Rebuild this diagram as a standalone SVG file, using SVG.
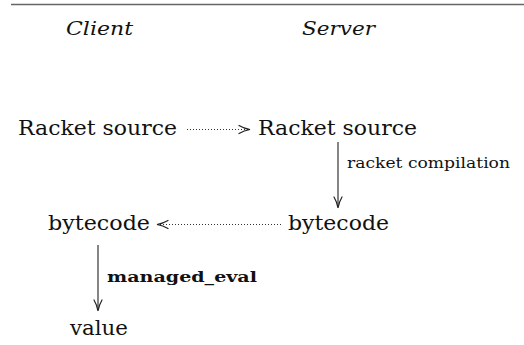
<svg xmlns="http://www.w3.org/2000/svg" width="524" height="345" viewBox="0 0 524 345">
<style>
text{font-family:'DejaVu Serif','Liberation Serif',serif;fill:#111}
.t{font-size:21px}
.h{font-size:19px;font-style:italic}
.s{font-size:14px}
.b{font-size:14px;font-weight:bold}
.dot{stroke:#333;stroke-width:1;stroke-dasharray:1 2;fill:none}
.sol{stroke:#222;stroke-width:1.1;fill:none}
.hd{stroke:#222;stroke-width:1.2;fill:none;stroke-linecap:round}
</style>
<rect width="524" height="345" fill="#fff"/>
<line x1="11" y1="4.5" x2="524" y2="4.5" stroke="#666" stroke-width="1.3"/>
<g id="hdr-client"><text class="h" x="66" y="35" textLength="67" lengthAdjust="spacingAndGlyphs">Client</text></g>
<g id="hdr-server"><text class="h" x="302" y="35" textLength="73" lengthAdjust="spacingAndGlyphs">Server</text></g>
<g id="client-src"><text class="t" x="18" y="135" textLength="159" lengthAdjust="spacingAndGlyphs">Racket source</text></g>
<g id="server-src"><text class="t" x="258" y="135" textLength="159" lengthAdjust="spacingAndGlyphs">Racket source</text></g>
<g id="server-bc"><text class="t" x="288" y="230" textLength="101" lengthAdjust="spacingAndGlyphs">bytecode</text></g>
<g id="client-bc"><text class="t" x="48" y="230" textLength="102" lengthAdjust="spacingAndGlyphs">bytecode</text></g>
<g id="value"><text class="t" x="70" y="335" textLength="58" lengthAdjust="spacingAndGlyphs">value</text></g>
<g id="connectors">
<line class="dot" x1="187" y1="129.5" x2="248" y2="129.5"/>
<path class="hd" d="M239,125.5 Q244,128.5 250,129.5 Q244,130.5 239,133.5"/>
<line class="sol" x1="338" y1="142" x2="338" y2="207"/>
<path class="hd" d="M334,197 Q337,202 338,208 Q339,202 342,197"/>
<text class="s" x="347" y="168" textLength="163" lengthAdjust="spacingAndGlyphs">racket compilation</text>
<line class="dot" x1="160" y1="224.5" x2="282" y2="224.5"/>
<path class="hd" d="M168,220.5 Q163,223.5 157,224.5 Q163,225.5 168,228.5"/>
<line class="sol" x1="98" y1="245" x2="98" y2="310"/>
<path class="hd" d="M94,300 Q97,305 98,311 Q99,305 102,300"/>
<text class="b" x="107" y="282" textLength="150" lengthAdjust="spacingAndGlyphs">managed_eval</text>
</g>
</svg>
